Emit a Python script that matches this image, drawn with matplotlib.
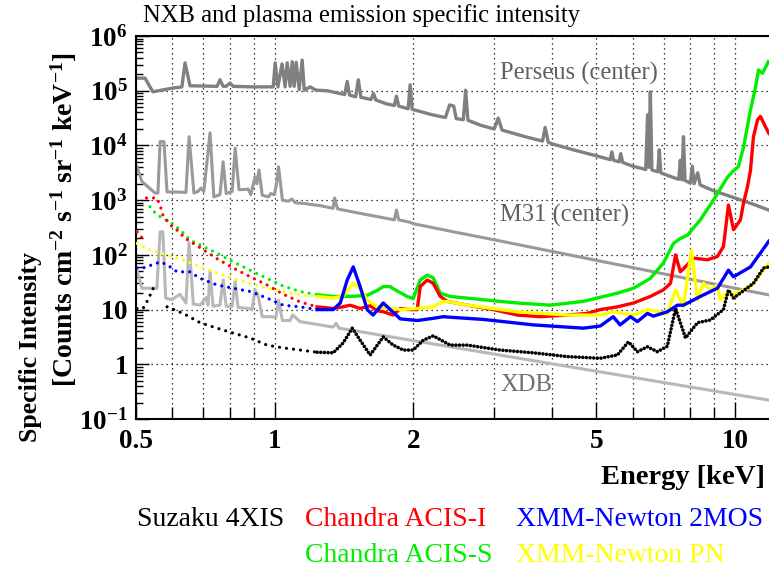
import numpy as np
import matplotlib
matplotlib.use('Agg')
import matplotlib.pyplot as plt
from matplotlib.ticker import FixedLocator, FixedFormatter, NullFormatter

plt.rcParams['font.family'] = ['Liberation Serif', 'DejaVu Serif']
plt.rcParams['mathtext.fontset'] = 'custom'
plt.rcParams['mathtext.rm'] = 'Liberation Serif'
plt.rcParams['mathtext.bf'] = 'Liberation Serif:bold'
plt.rcParams['mathtext.it'] = 'Liberation Serif:italic'

# ---------------- data (energy in keV, log10 of specific intensity) ----------------
perseus_e = [0.5025, 0.523, 0.544, 0.602, 0.629, 0.639, 0.655, 0.750, 0.761, 0.773, 0.785, 0.800, 0.813,
             0.898, 0.993, 1.003, 1.017, 1.038, 1.054, 1.065, 1.081, 1.092, 1.103, 1.114, 1.131, 1.148,
             1.160, 1.195, 1.23, 1.30, 1.42, 1.438, 1.455, 1.50, 1.52, 1.54, 1.62, 1.64, 1.66, 1.75, 1.82,
             1.84, 1.86, 1.95, 1.97, 1.99, 2.2, 2.35, 2.40, 2.45, 2.48, 2.57, 2.60, 2.63, 2.8, 3.0, 3.06,
             3.12, 3.5, 3.82, 3.87, 3.93, 4.0, 4.5, 5.0, 5.36, 5.40, 5.45, 5.6, 5.65, 5.7, 6.0, 6.40, 6.46,
             6.50, 6.55, 6.60, 6.80, 6.85, 6.90, 7.2, 7.55, 7.61, 7.67, 7.73, 7.79, 8.0, 8.08, 8.15, 8.3,
             8.4, 8.6, 9.0, 10.0, 11.0, 12.0]
perseus_log = [5.23, 5.23, 4.98, 5.05, 5.07, 5.51, 5.09, 5.08, 5.20, 5.08, 5.08, 5.14, 5.08,
               5.07, 5.07, 5.51, 5.07, 5.49, 5.07, 5.51, 5.08, 5.53, 5.08, 5.52, 5.02, 5.56,
               5.01, 5.07, 5.01, 5.00, 4.93, 5.17, 4.92, 4.89, 5.20, 4.88, 4.84, 4.95, 4.83, 4.76, 4.73,
               4.90, 4.72, 4.67, 5.11, 4.66, 4.56, 4.51, 4.74, 4.72, 4.49, 4.47, 5.01, 4.46, 4.37, 4.30, 4.50,
               4.28, 4.16, 4.08, 4.33, 4.06, 4.03, 3.91, 3.81, 3.74, 3.88, 3.73, 3.70, 3.85, 3.69, 3.62, 3.56, 4.56,
               3.60, 4.98, 3.55, 3.52, 3.92, 3.50, 3.44, 3.38, 3.73, 3.37, 4.16, 3.36, 3.31, 3.62, 3.30, 3.50,
               3.28, 3.24, 3.17, 3.04, 2.92, 2.80]

m31_e = [0.5025, 0.515, 0.550, 0.558, 0.564, 0.575, 0.584, 0.605, 0.642, 0.652, 0.668, 0.682, 0.692,
         0.702, 0.724, 0.738, 0.761, 0.773, 0.785, 0.809, 0.821, 0.837, 0.876, 0.888, 0.907, 0.915,
         0.925, 0.940, 0.970, 0.980, 0.999, 1.01, 1.02, 1.04, 1.07, 1.09, 1.11, 1.16, 1.20, 1.256,
         1.34, 1.35, 1.37, 1.53, 1.82, 1.84, 1.86, 1.96, 2.0, 2.45, 3.0, 4.0, 5.0, 6.0, 7.0, 8.0,
         10.0, 12.0]
m31_log = [3.61, 3.34, 3.13, 3.13, 4.07, 4.07, 3.15, 3.15, 3.14, 4.16, 3.13, 3.16, 3.22,
           3.16, 4.23, 3.06, 3.10, 3.70, 3.12, 3.16, 3.95, 3.19, 3.20, 3.10, 3.43, 3.30,
           3.55, 3.09, 3.06, 3.12, 3.10, 3.30, 3.61, 3.00, 2.98, 3.02, 2.95, 2.94, 2.92, 2.90,
           2.85, 3.04, 2.84, 2.76, 2.64, 2.82, 2.64, 2.60, 2.57, 2.42, 2.275, 2.064, 1.90, 1.767, 1.653, 1.555,
           1.391, 1.258]

xdb_e = [0.5025, 0.515, 0.555, 0.564, 0.572, 0.580, 0.598, 0.623, 0.642, 0.652, 0.666, 0.689, 0.710,
         0.717, 0.724, 0.735, 0.761, 0.773, 0.785, 0.809, 0.821, 0.833, 0.876, 0.893, 0.907, 0.920,
         0.940, 0.980, 1.007, 1.02, 1.04, 1.08, 1.095, 1.136, 1.34, 1.36, 1.38, 1.5, 2.0, 3.0, 5.0,
         8.0, 12.0]
xdb_log = [1.72, 1.39, 1.39, 2.42, 2.42, 1.21, 1.18, 1.28, 1.12, 2.22, 1.10, 1.08, 1.22,
           1.08, 1.69, 1.06, 1.08, 1.54, 1.06, 1.06, 1.51, 1.04, 1.02, 1.00, 1.36, 1.27,
           0.87, 0.87, 0.86, 1.17, 0.80, 0.80, 0.90, 0.78, 0.68, 0.75, 0.66, 0.61, 0.433, 0.186, -0.127,
           -0.415, -0.663]

suzaku_e = [0.5025, 0.518, 0.531, 0.545, np.nan, 0.584, 0.633, 0.689, 0.750, 0.813, 0.885, 0.963, 1.044,
            1.136, 1.237, 1.341, 1.409, 1.475, 1.534, 1.613, 1.722, 1.810, 1.903, 2.0, 2.103, 2.211,
            2.407, 2.622, 3.09, 3.648, 4.325, 5.10, 5.555, 5.87, 6.14, 6.455, 6.785, 7.13, 7.43, 7.81,
            8.29, 8.845, 9.44, 9.68, 9.93, 10.97, 11.54, 11.85]
suzaku_log = [1.02, 1.02, 1.18, 1.39, np.nan, 1.05, 0.93, 0.76, 0.66, 0.57, 0.48, 0.35, 0.30,
              0.26, 0.22, 0.21, 0.39, 0.66, 0.44, 0.17, 0.50, 0.35, 0.26, 0.26, 0.44, 0.52,
              0.35, 0.35, 0.26, 0.21, 0.14, 0.11, 0.17, 0.41, 0.23, 0.32, 0.23, 0.33, 1.02, 0.48,
              0.76, 0.81, 1.0, 1.36, 1.21, 1.48, 1.76, 1.78]

acisi_e = [0.5025, 0.518, np.nan, 0.527, 0.555, 0.564, 0.572, 0.593, 0.614, 0.640, 0.689, 0.750, 0.813,
           0.885, 0.963, 1.044, 1.136, 1.237, 1.341, 1.389, 1.459, 1.534, 1.613, 1.670, 1.722, 1.810,
           1.875, 1.971, 2.041, 2.072, 2.146, 2.211, 2.29, 2.372, 2.622, 2.985, 3.368, 3.78, 4.325, 4.78,
           5.10, 5.555, 6.02, 6.55, 6.99, 7.245, 7.43, 7.61, 7.885, 8.125, 8.71, 9.16, 9.44, 9.68, 9.93,
           10.28, 10.44, 10.65, 10.81, 10.97, 11.2, 11.36, 11.65, 11.85]
acisi_log = [2.42, 2.29, np.nan, 3.04, 3.04, 2.91, 2.73, 2.55, 2.45, 2.30, 2.13, 1.93, 1.76,
             1.60, 1.45, 1.28, 1.14, 1.05, 1.02, 1.04, 1.08, 1.02, 1.07, 0.98, 0.96, 0.90,
             1.02, 1.0, 1.0, 1.42, 1.54, 1.48, 1.24, 1.15, 1.08, 1.0, 0.90, 0.87, 0.90, 0.93,
             1.0, 1.05, 1.12, 1.24, 1.36, 1.48, 2.0, 1.69, 1.82, 1.94, 1.91, 1.97, 2.15, 2.91, 2.46,
             2.64, 2.95, 3.25, 3.55, 4.16, 4.47, 4.53, 4.34, 4.22]

aciss_e = [0.5025, 0.518, np.nan, 0.536, 0.550, 0.570, 0.593, 0.623, 0.655, 0.689, 0.750, 0.813, 0.885,
           0.963, 1.044, 1.136, 1.237, 1.341, 1.459, 1.589, 1.670, 1.722, 1.783, 1.810, 1.941, 2.0,
           2.072, 2.146, 2.211, 2.29, 2.407, 2.839, 3.368, 3.972, 4.685, 5.555, 6.02, 6.55, 6.99,
           7.355, 7.61, 7.885, 8.41, 8.98, 9.635, 9.875, 10.17, 10.44, 10.81, 11.09, 11.25, 11.48, 11.82]
aciss_log = [2.42, 2.42, np.nan, 2.88, 2.77, 2.67, 2.60, 2.46, 2.27, 2.18, 2.03, 1.87, 1.72,
             1.57, 1.43, 1.33, 1.27, 1.24, 1.24, 1.26, 1.35, 1.42, 1.42, 1.38, 1.24, 1.20,
             1.54, 1.63, 1.58, 1.30, 1.24, 1.18, 1.12, 1.08, 1.15, 1.30, 1.39, 1.57, 1.85,
             2.21, 2.30, 2.36, 2.64, 3.0, 3.42, 3.52, 3.61, 3.97, 4.65, 5.07, 5.38, 5.32, 5.53]

mos_e = [0.5025, 0.518, 0.564, 0.584, 0.614, 0.655, 0.689, 0.750, 0.813, 0.885, 0.963, 1.044, 1.136,
         1.237, 1.341, 1.389, 1.438, 1.482, 1.534, 1.589, 1.637, 1.722, 1.783, 1.875, 2.041, 2.211,
         2.325, 2.407, 2.839, 3.648, 4.685, 5.10, 5.44, 5.63, 5.93, 6.14, 6.455, 6.65, 7.13, 7.50,
         7.73, 8.41, 9.16, 9.68, 9.93, 10.81, 11.85]
mos_log = [1.76, 1.76, 1.87, 1.82, 1.69, 1.69, 1.57, 1.45, 1.39, 1.33, 1.21, 1.08, 1.05,
           1.0, 1.0, 1.12, 1.54, 1.78, 1.42, 1.0, 0.90, 1.12, 1.0, 0.83, 0.80, 0.84,
           0.87, 0.86, 0.82, 0.72, 0.66, 0.70, 0.87, 0.72, 0.87, 0.78, 0.93, 0.88, 0.96, 1.08,
           1.08, 1.24, 1.39, 1.72, 1.60, 1.78, 2.25]

pn_e = [0.5025, 0.536, 0.584, 0.633, 0.689, 0.750, 0.813, 0.885, 0.963, 1.044, 1.136, 1.237, 1.341,
        1.409, 1.482, 1.534, 1.589, 1.670, 1.875, 2.041, 2.211, 2.325, 2.407, 2.622, 3.368, 4.325,
        5.10, 5.44, 6.02, 6.455, 7.13, 7.43, 7.73, 8.04, 8.29, 8.54, 8.845, 9.16, 9.30, 9.68, 9.93,
        10.81, 11.85]
pn_log = [2.21, 2.09, 2.0, 1.91, 1.78, 1.67, 1.57, 1.48, 1.39, 1.33, 1.27, 1.24, 1.21,
          1.25, 1.48, 1.39, 1.18, 1.05, 1.0, 1.02, 1.05, 1.15, 1.14, 1.08, 0.96, 0.90,
          0.90, 0.96, 0.90, 1.0, 0.93, 1.36, 1.05, 2.08, 1.18, 1.48, 1.36, 1.45, 1.18, 1.33, 1.28,
          1.42, 1.85]

legend_labels = ['Suzaku 4XIS', 'Chandra ACIS-I', 'XMM-Newton 2MOS', 'Chandra ACIS-S', 'XMM-Newton PN']
legend_colors = ['black', '#ff0000', '#0000ff', '#00ee00', '#ffff00']

x_major = [0.5, 1, 2, 5, 10]
x_major_labels = ['0.5', '1', '2', '5', '10']
x_minor = [0.6, 0.7, 0.8, 0.9, 3, 4, 6, 7, 8, 9]
y_major = [1e-1, 1, 10, 1e2, 1e3, 1e4, 1e5, 1e6]
y_major_labels = [r'$\mathbf{10^{-1}}$', r'$\mathbf{1}$', r'$\mathbf{10}$', r'$\mathbf{10^{2}}$',
                  r'$\mathbf{10^{3}}$', r'$\mathbf{10^{4}}$', r'$\mathbf{10^{5}}$', r'$\mathbf{10^{6}}$']

# ---------------- figure ----------------
W, H = 769, 575
fig = plt.figure(figsize=(W / 100, H / 100), dpi=100)
ax = fig.add_axes([136 / W, 156 / H, 635.4 / W, 383 / H])
ax.set_xscale('log')
ax.set_yscale('log')
ax.set_xlim(0.5, 12)
ax.set_ylim(0.1, 1e6)

ax.xaxis.set_major_locator(FixedLocator(x_major))
ax.xaxis.set_major_formatter(FixedFormatter(x_major_labels))
ax.xaxis.set_minor_locator(FixedLocator(x_minor))
ax.xaxis.set_minor_formatter(NullFormatter())
ax.yaxis.set_major_locator(FixedLocator(y_major))
ax.yaxis.set_major_formatter(FixedFormatter(y_major_labels))
y_minor = [m * 10.0 ** d for d in range(-1, 6) for m in range(2, 10)]
ax.yaxis.set_minor_locator(FixedLocator(y_minor))
ax.yaxis.set_minor_formatter(NullFormatter())

ax.tick_params(axis='both', which='both', direction='in', color='black', width=1.0)
ax.tick_params(axis='x', which='major', length=12, pad=7, labelsize=19.5)
ax.tick_params(axis='x', which='minor', length=9)
ax.tick_params(axis='y', which='major', length=9, pad=6, labelsize=19.5)
ax.tick_params(axis='y', which='minor', length=5)
for lab in ax.get_xticklabels():
    lab.set_fontweight('bold')

ax.xaxis.grid(True, which='both', linestyle=(0, (1, 3)), color='black', linewidth=0.9)
ax.yaxis.grid(True, which='major', linestyle=(0, (1, 3)), color='black', linewidth=0.9)
ax.set_axisbelow(True)
for s in ['left', 'bottom', 'top']:
    ax.spines[s].set_linewidth(1.5)
ax.spines['right'].set_visible(False)

# gray model spectra
ax.plot(perseus_e, 10 ** np.asarray(perseus_log), color='#808080', lw=2.4, zorder=2)
ax.plot(m31_e, 10 ** np.asarray(m31_log), color='#999999', lw=2.2, zorder=2)
ax.plot(xdb_e, 10 ** np.asarray(xdb_log), color='#b8b8b8', lw=2.2, zorder=2)


def draw(e, lg, color, dense_dotted=False):
    e = np.asarray(e, float)
    i = 10 ** np.asarray(lg, float)
    k = int(np.argmax(e > 1.2))
    ax.plot(e[:k + 1], i[:k + 1], color=color, lw=2.3, ls=(0, (0.01, 2.2)),
            dash_capstyle='round', zorder=3)
    if dense_dotted:
        ax.plot(e[k:], i[k:], color=color, lw=2.6, ls=(0, (0.01, 1.0)),
                dash_capstyle='round', zorder=3)
    else:
        ax.plot(e[k:], i[k:], color=color, lw=2.4, zorder=3)


draw(aciss_e, aciss_log, '#00ee00')
draw(acisi_e, acisi_log, '#ff0000')
draw(pn_e, pn_log, '#ffff00')
draw(mos_e, mos_log, '#0000ff')
draw(suzaku_e, suzaku_log, 'black', dense_dotted=True)

# annotations
fig.text(500 / W, 1 - 73 / H, 'Perseus (center)', fontsize=17.7, color='#606060', va='center', ha='left')
fig.text(500 / W, 1 - 215 / H, 'M31 (center)', fontsize=17.7, color='#606060', va='center', ha='left')
fig.text(500 / W, 1 - 385 / H, 'XDB', fontsize=17.7, color='#707070', va='center', ha='left')

fig.text(143 / W, 1 - 16 / H, 'NXB and plasma emission specific intensity', fontsize=17.7,
         va='center', ha='left')

fig.text(765 / W, 1 - 478 / H, 'Energy [keV]', fontsize=20.5, fontweight='bold', ha='right', va='center')
fig.text(30 / W, 1 - 347 / H, 'Specific Intensity', fontsize=18.5, fontweight='bold',
         rotation=90, ha='center', va='center')
fig.text(64 / W, 1 - 220 / H,
         r'[Counts cm$^{\mathbf{-2}}$ s$^{\mathbf{-1}}$ sr$^{\mathbf{-1}}$ keV$^{\mathbf{-1}}$]',
         fontsize=20, fontweight='bold', rotation=90, ha='center', va='center')

# legend (text only, coloured)
leg_pos = [(137, 520), (305, 520), (516, 520), (305, 556), (516, 556)]
for lab, col, (px, py) in zip(legend_labels, legend_colors, leg_pos):
    fig.text(px / W, 1 - py / H, lab, fontsize=20, color=col, ha='left', va='center')

fig.savefig('out.png', dpi=100)
